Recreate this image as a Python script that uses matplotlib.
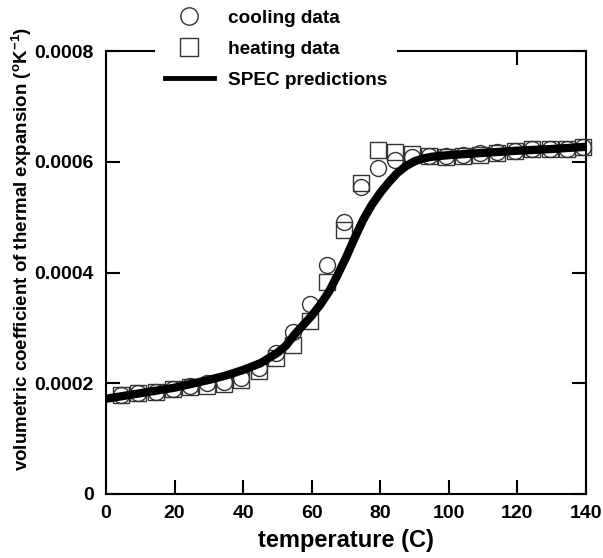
import matplotlib
matplotlib.use("Agg")
import matplotlib.pyplot as plt
from matplotlib.lines import Line2D

plt.rcParams['font.family'] = ['Liberation Sans', 'DejaVu Sans']
plt.rcParams['font.weight'] = 'bold'
plt.rcParams['mathtext.fontset'] = 'custom'
plt.rcParams['mathtext.rm'] = 'Liberation Sans:bold'
plt.rcParams['mathtext.it'] = 'Liberation Sans:bold'
plt.rcParams['mathtext.bf'] = 'Liberation Sans:bold'
plt.rcParams['mathtext.default'] = 'rm'

# ---- data ----
temps = [4.3, 9.4, 14.5, 19.5, 24.5, 29.5, 34.5, 39.5, 44.5, 49.5, 54.5, 59.5,
         64.4, 69.3, 74.3, 79.4, 84.3, 89.2, 94.2, 99.3, 104.2, 109.1, 114.1,
         119.2, 124.3, 129.4, 134.4, 139.2]
cooling = [1.79, 1.82, 1.85, 1.89, 1.95, 2.00, 2.03, 2.09, 2.27, 2.54, 2.93, 3.44,
           4.14, 4.92, 5.55, 5.88, 6.03, 6.09, 6.11, 6.10, 6.12, 6.15, 6.17,
           6.20, 6.23, 6.23, 6.23, 6.26]
heating = [1.79, 1.82, 1.85, 1.89, 1.93, 1.95, 1.99, 2.06, 2.23, 2.45, 2.69, 3.13,
           3.82, 4.76, 5.61, 6.21, 6.18, 6.14, 6.10, 6.08, 6.10, 6.13, 6.16,
           6.20, 6.23, 6.23, 6.23, 6.26]
spec_t = [0, 5, 10, 15, 20, 25, 30, 35, 40, 45, 50, 52.5, 55, 57.5, 60, 62.5, 65,
          67.5, 70, 72.5, 75, 77.5, 80, 82.5, 85, 87.5, 90, 92.5, 95, 100, 110,
          120, 130, 140]
spec_v = [1.72, 1.77, 1.82, 1.87, 1.92, 1.99, 2.06, 2.14, 2.24, 2.36, 2.55, 2.68,
          2.88, 3.05, 3.22, 3.42, 3.65, 3.95, 4.27, 4.62, 4.95, 5.22, 5.44, 5.63,
          5.80, 5.92, 6.01, 6.06, 6.09, 6.12, 6.16, 6.20, 6.23, 6.27]
scale = 1e-4
xticks = [0, 20, 40, 60, 80, 100, 120, 140]
yticks = [0, 0.0002, 0.0004, 0.0006, 0.0008]
ytick_labels = ['0', '0.0002', '0.0004', '0.0006', '0.0008']

fig = plt.figure(figsize=(6.03, 5.58), dpi=100)
ax = fig.add_axes([106/603, 1 - 494/558, 480/603, 443/558])

mec = '#333333'
ax.plot(temps, [v * scale for v in heating], linestyle='none', marker='s',
        ms=12, mfc='none', mec=mec, mew=1.0, clip_on=False, zorder=3)
ax.plot(temps, [v * scale for v in cooling], linestyle='none', marker='o',
        ms=11.5, mfc='none', mec=mec, mew=1.0, clip_on=False, zorder=3)
ax.plot(spec_t, [v * scale for v in spec_v], color='black', lw=6,
        solid_capstyle='butt', zorder=4, clip_on=False)

ax.set_xlim(0, 140)
ax.set_ylim(0, 0.0008)
ax.set_xticks(xticks)
ax.set_xticklabels([str(t) for t in xticks])
ax.set_yticks(yticks)
ax.set_yticklabels(ytick_labels)

ax.tick_params(axis='both', direction='in', length=10, width=1.5,
               labelsize=14, color='black')
ax.tick_params(axis='x', pad=8)
ax.tick_params(axis='y', pad=9)
ax.tick_params(right=True, which='both')
for lab in ax.get_xticklabels() + ax.get_yticklabels():
    lab.set_fontweight('bold')

# top ticks
sec = ax.secondary_xaxis('top')
sec.set_xticks([40, 80, 120])
sec.tick_params(direction='in', length=10, width=1.5, labeltop=False)
sec.spines['top'].set_visible(False)

for s in ax.spines.values():
    s.set_linewidth(1.5)

ax.set_xlabel('temperature (C)', fontsize=17, fontweight='bold', labelpad=5)
ax.set_ylabel('volumetric coefficient of thermal expansion ($^{o}$K$^{-1}$)',
              fontsize=13.5, fontweight='bold')
ax.yaxis.set_label_coords((34 - 106) / 480, (494 - 249) / 443)

handles = [
    Line2D([], [], linestyle='none', marker='o', ms=12.5, mfc='none', mec=mec, mew=1.0),
    Line2D([], [], linestyle='none', marker='s', ms=12.5, mfc='none', mec=mec, mew=1.0),
    Line2D([], [], color='black', lw=3.5),
]
leg = ax.legend(handles, ['cooling data', 'heating data', 'SPEC predictions'],
                loc='upper left', bbox_to_anchor=(155/603, 1 - 0/558),
                bbox_transform=fig.transFigure, frameon=True, fancybox=False,
                framealpha=1, edgecolor='none', facecolor='white',
                prop={'size': 13.7, 'weight': 'bold'}, handlelength=2.6,
                handletextpad=0.75, labelspacing=0.72, borderpad=0.5,
                borderaxespad=0)
leg.set_zorder(10)

fig.savefig('out.png', dpi=100)
